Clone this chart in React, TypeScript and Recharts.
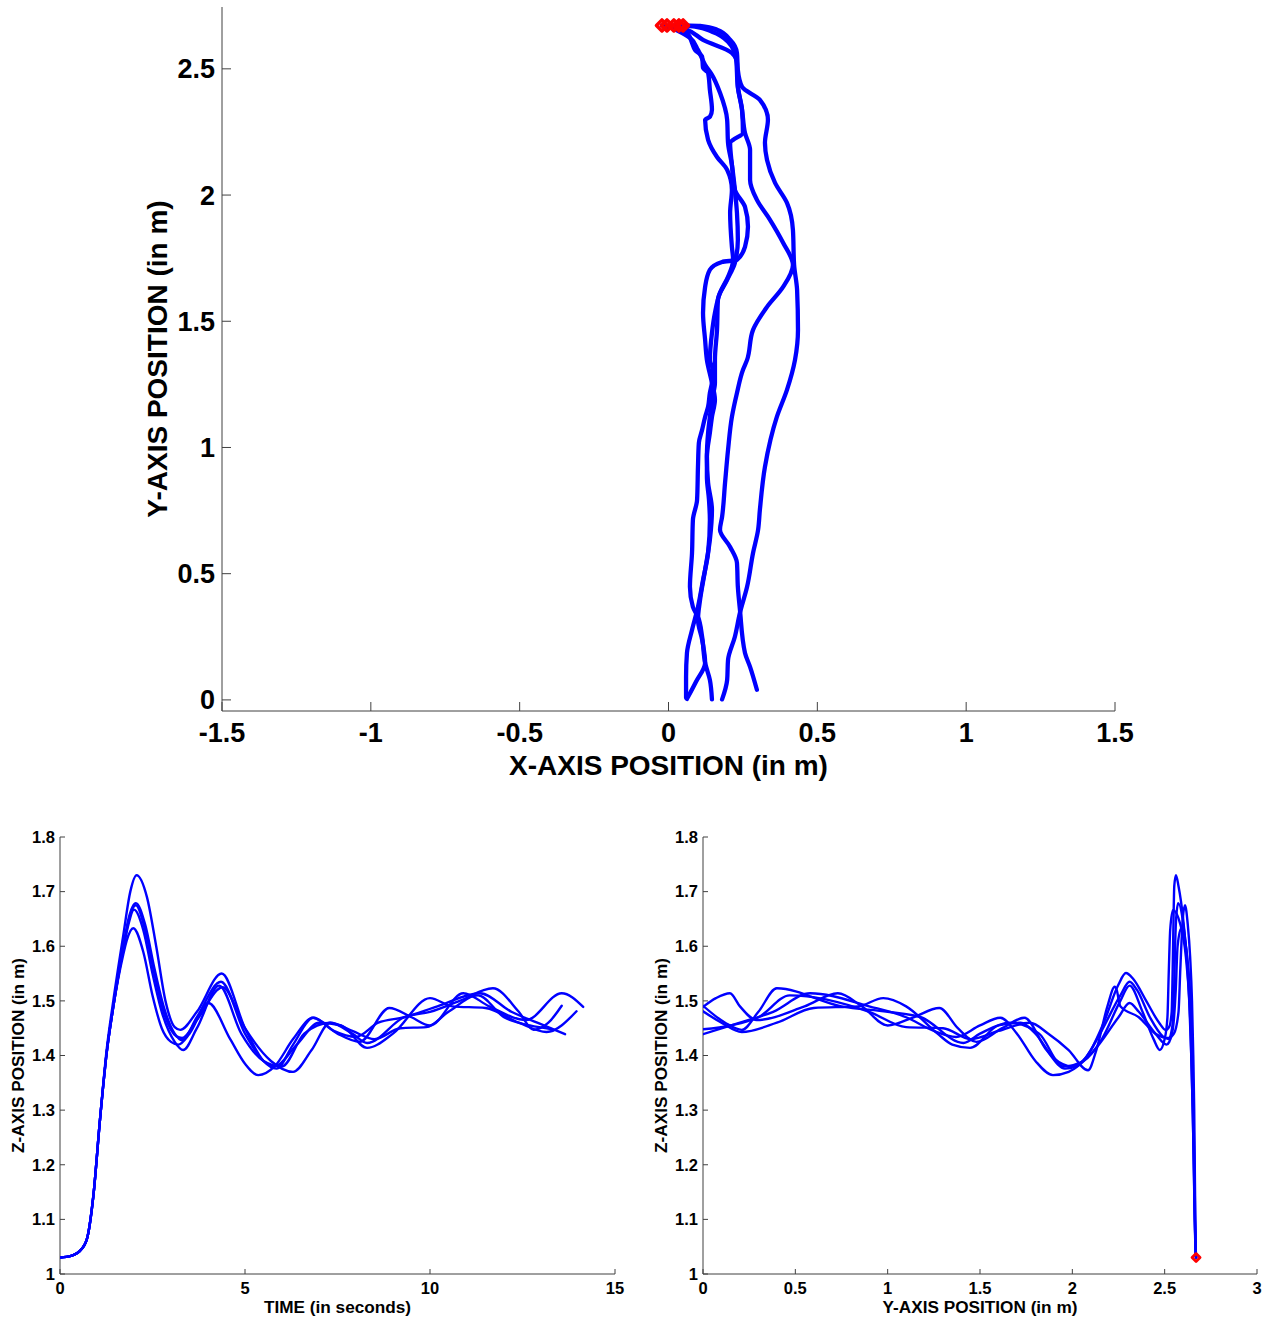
import React from 'react';
import { ScatterChart, Scatter, XAxis, YAxis, Label } from 'recharts';

type Pt = [number, number];
type XY = { x: number; y: number };

// ---- Plan view: ground position (x, y) in metres, from start to finish ----
const walkA: Pt[] = [
  [0.049, 2.672], [0.106, 2.670], [0.163, 2.655], [0.207, 2.615], [0.230, 2.563], [0.233, 2.496],
  [0.247, 2.429], [0.307, 2.377], [0.334, 2.298], [0.324, 2.207], [0.331, 2.139], [0.358, 2.048],
  [0.398, 1.969], [0.418, 1.862], [0.422, 1.723], [0.432, 1.624], [0.435, 1.466], [0.425, 1.347],
  [0.398, 1.228], [0.364, 1.121], [0.324, 0.923], [0.307, 0.753], [0.301, 0.674], [0.284, 0.582],
  [0.264, 0.448], [0.240, 0.345], [0.223, 0.250], [0.200, 0.158], [0.197, 0.079], [0.180, 0.002],
];
const walkB: Pt[] = [
  [0.035, 2.672], [0.089, 2.667], [0.146, 2.647], [0.200, 2.607], [0.227, 2.540], [0.233, 2.429],
  [0.247, 2.338], [0.257, 2.246], [0.274, 2.179], [0.274, 2.060], [0.297, 1.981], [0.341, 1.902],
  [0.385, 1.811], [0.418, 1.723], [0.385, 1.636], [0.331, 1.557], [0.284, 1.466], [0.264, 1.347],
  [0.250, 1.307], [0.230, 1.216], [0.213, 1.121], [0.200, 0.990], [0.190, 0.860], [0.180, 0.725],
  [0.173, 0.674], [0.207, 0.606], [0.230, 0.543], [0.233, 0.448], [0.240, 0.357], [0.257, 0.186],
  [0.274, 0.131], [0.297, 0.040],
];
const walkC: Pt[] = [
  [0.018, 2.672], [0.062, 2.655], [0.116, 2.615], [0.213, 2.563], [0.230, 2.524], [0.233, 2.429],
  [0.247, 2.338], [0.250, 2.246], [0.217, 2.219], [0.207, 2.207], [0.213, 2.120], [0.223, 2.021],
  [0.257, 1.953], [0.267, 1.874], [0.257, 1.795], [0.230, 1.743], [0.180, 1.735], [0.139, 1.704],
  [0.123, 1.636], [0.116, 1.533], [0.123, 1.426], [0.129, 1.347], [0.146, 1.256], [0.156, 1.189],
  [0.146, 1.121], [0.139, 1.058], [0.129, 0.963], [0.129, 0.884], [0.136, 0.792], [0.139, 0.713],
  [0.133, 0.582], [0.116, 0.475], [0.099, 0.368], [0.079, 0.277], [0.062, 0.186], [0.059, 0.091],
  [0.059, 0.008],
];
const walkD: Pt[] = [
  [-0.022, 2.672], [0.062, 2.643], [0.079, 2.603], [0.089, 2.575], [0.113, 2.548], [0.116, 2.504],
  [0.133, 2.484], [0.139, 2.417], [0.146, 2.338], [0.139, 2.310], [0.123, 2.298], [0.133, 2.219],
  [0.163, 2.151], [0.197, 2.100], [0.213, 2.021], [0.207, 1.929], [0.213, 1.795], [0.217, 1.743],
  [0.200, 1.676], [0.173, 1.613], [0.156, 1.533], [0.146, 1.454], [0.139, 1.347], [0.149, 1.307],
  [0.146, 1.256], [0.139, 1.216], [0.133, 1.161], [0.123, 1.121], [0.113, 1.070], [0.102, 1.018],
  [0.099, 0.923], [0.096, 0.792], [0.082, 0.713], [0.079, 0.582], [0.072, 0.448], [0.082, 0.368],
  [0.099, 0.329], [0.113, 0.250], [0.123, 0.147], [0.139, 0.079], [0.146, 0.002],
];
const walkE: Pt[] = [
  [-0.005, 2.672], [0.072, 2.623], [0.099, 2.575], [0.123, 2.516], [0.146, 2.476], [0.173, 2.405],
  [0.197, 2.298], [0.200, 2.207], [0.213, 2.120], [0.223, 2.021], [0.230, 1.929], [0.233, 1.823],
  [0.223, 1.731], [0.197, 1.664], [0.166, 1.585], [0.163, 1.466], [0.156, 1.347], [0.156, 1.256],
  [0.146, 1.189], [0.139, 1.121], [0.133, 1.058], [0.129, 0.963], [0.133, 0.860], [0.146, 0.753],
  [0.139, 0.634], [0.123, 0.515], [0.106, 0.396], [0.099, 0.317], [0.113, 0.238], [0.123, 0.147],
  [0.092, 0.071], [0.062, 0.004],
];

// ---- Height z (m) against time t (s) ----
const heightTime1: Pt[] = [
  [0, 1.03], [0.3, 1.033], [0.6, 1.047], [0.75, 1.07], [0.9, 1.142], [1.08, 1.282], [1.26, 1.41],
  [1.44, 1.5], [1.71, 1.62], [1.9, 1.7], [2.07, 1.73], [2.35, 1.69], [2.6, 1.6], [2.85, 1.5],
  [3.1, 1.452], [3.25, 1.447], [3.7, 1.48], [4.37, 1.55], [5.0, 1.45], [5.5, 1.39], [5.85, 1.376],
  [6.3, 1.42], [6.84, 1.469], [7.5, 1.44], [8.1, 1.425], [8.9, 1.487], [9.5, 1.47], [10.0, 1.455],
  [10.9, 1.514], [11.6, 1.49], [12.6, 1.465], [13.56, 1.514], [14.14, 1.489],
];
const heightTime2: Pt[] = [
  [0, 1.03], [0.3, 1.033], [0.6, 1.047], [0.75, 1.07], [0.9, 1.142], [1.08, 1.282], [1.26, 1.404],
  [1.44, 1.489], [1.71, 1.6], [1.85, 1.65], [2.05, 1.679], [2.3, 1.64], [2.55, 1.56], [2.8, 1.49],
  [3.1, 1.44], [3.3, 1.428], [3.7, 1.47], [4.35, 1.535], [5.0, 1.44], [5.5, 1.39], [5.8, 1.38],
  [6.4, 1.42], [7.0, 1.46], [7.6, 1.455], [8.3, 1.414], [9.0, 1.44], [10.0, 1.505], [10.6, 1.49],
  [11.5, 1.487], [12.4, 1.46], [13.15, 1.443], [13.96, 1.481],
];
const heightTime3: Pt[] = [
  [0, 1.03], [0.3, 1.033], [0.6, 1.047], [0.75, 1.07], [0.9, 1.142], [1.08, 1.282], [1.26, 1.404],
  [1.44, 1.489], [1.71, 1.595], [1.85, 1.64], [2.0, 1.667], [2.25, 1.63], [2.5, 1.55], [2.75, 1.48],
  [3.1, 1.425], [3.33, 1.41], [3.7, 1.45], [4.3, 1.528], [4.9, 1.44], [5.5, 1.39], [6.0, 1.38],
  [6.6, 1.44], [7.3, 1.46], [7.9, 1.44], [8.3, 1.423], [9.3, 1.47], [10.0, 1.48], [10.8, 1.5],
  [11.7, 1.523], [12.4, 1.48], [12.8, 1.447], [13.2, 1.46], [13.56, 1.491],
];
const heightTime4: Pt[] = [
  [0, 1.03], [0.3, 1.033], [0.6, 1.047], [0.75, 1.07], [0.9, 1.142], [1.08, 1.282], [1.26, 1.404],
  [1.44, 1.489], [1.71, 1.585], [1.8, 1.61], [1.98, 1.633], [2.25, 1.59], [2.5, 1.51], [2.75, 1.45],
  [3.0, 1.425], [3.2, 1.42], [3.5, 1.44], [4.01, 1.496], [4.6, 1.43], [5.0, 1.385], [5.36, 1.364],
  [5.8, 1.38], [6.3, 1.43], [6.84, 1.469], [7.4, 1.445], [8.0, 1.434], [8.6, 1.46], [9.3, 1.47],
  [10.2, 1.49], [11.35, 1.514], [12.2, 1.48], [12.9, 1.46], [13.65, 1.439],
];
const heightTime5: Pt[] = [
  [0, 1.03], [0.3, 1.033], [0.6, 1.047], [0.75, 1.07], [0.9, 1.142], [1.08, 1.282], [1.26, 1.404],
  [1.44, 1.489], [1.71, 1.595], [1.85, 1.645], [2.05, 1.675], [2.3, 1.63], [2.55, 1.55], [2.8, 1.48],
  [3.15, 1.435], [3.3, 1.432], [3.7, 1.465], [4.4, 1.525], [5.0, 1.45], [5.7, 1.39], [6.3, 1.37],
  [6.8, 1.41], [7.3, 1.46], [7.9, 1.445], [8.5, 1.43], [9.2, 1.45], [9.9, 1.452], [10.5, 1.48],
  [11.3, 1.51], [12.0, 1.47], [12.7, 1.455], [13.3, 1.448],
];

// ---- Height z (m) against forward position y (m) ----
const heightY1: Pt[] = [
  [2.670, 1.03], [2.668, 1.04], [2.664, 1.08], [2.660, 1.15], [2.655, 1.25], [2.648, 1.35],
  [2.640, 1.45], [2.625, 1.55], [2.600, 1.65], [2.575, 1.71], [2.561, 1.73], [2.552, 1.71],
  [2.548, 1.65], [2.543, 1.55], [2.538, 1.48], [2.525, 1.453], [2.505, 1.447], [2.47, 1.46],
  [2.40, 1.50], [2.33, 1.54], [2.29, 1.551], [2.25, 1.53], [2.17, 1.46], [2.10, 1.41], [2.02, 1.38],
  [1.96, 1.376], [1.86, 1.41], [1.74, 1.469], [1.62, 1.45], [1.48, 1.425], [1.38, 1.45],
  [1.28, 1.487], [1.14, 1.47], [1.0, 1.455], [0.86, 1.49], [0.73, 1.514], [0.55, 1.49],
  [0.29, 1.465], [0.2, 1.49], [0.146, 1.514], [0.07, 1.505], [0.0, 1.489],
];
const heightY2: Pt[] = [
  [2.670, 1.03], [2.668, 1.04], [2.665, 1.08], [2.661, 1.15], [2.657, 1.25], [2.651, 1.35],
  [2.643, 1.45], [2.628, 1.55], [2.605, 1.63], [2.573, 1.679], [2.562, 1.65], [2.555, 1.58],
  [2.550, 1.5], [2.540, 1.45], [2.520, 1.43], [2.49, 1.435], [2.42, 1.47], [2.35, 1.52],
  [2.31, 1.535], [2.26, 1.51], [2.15, 1.44], [2.07, 1.395], [2.0, 1.38], [1.9, 1.395], [1.8, 1.44],
  [1.72, 1.46], [1.6, 1.455], [1.446, 1.414], [1.35, 1.42], [1.27, 1.44], [1.1, 1.49],
  [0.976, 1.505], [0.84, 1.49], [0.6, 1.487], [0.4, 1.46], [0.21, 1.443], [0.1, 1.46], [0.0, 1.481],
];
const heightY3: Pt[] = [
  [2.670, 1.03], [2.667, 1.05], [2.663, 1.1], [2.658, 1.2], [2.652, 1.3], [2.644, 1.4],
  [2.633, 1.5], [2.615, 1.58], [2.585, 1.64], [2.545, 1.666], [2.530, 1.63], [2.522, 1.55],
  [2.515, 1.47], [2.500, 1.43], [2.474, 1.41], [2.44, 1.43], [2.38, 1.48], [2.31, 1.528],
  [2.26, 1.5], [2.16, 1.43], [2.06, 1.39], [1.95, 1.38], [1.82, 1.44], [1.66, 1.46], [1.5, 1.44],
  [1.41, 1.423], [1.18, 1.47], [1.0, 1.48], [0.75, 1.49], [0.40, 1.523], [0.30, 1.48],
  [0.21, 1.447], [0.12, 1.46], [0.0, 1.491],
];
const heightY4: Pt[] = [
  [2.670, 1.03], [2.668, 1.05], [2.665, 1.1], [2.661, 1.2], [2.656, 1.3], [2.650, 1.4],
  [2.640, 1.5], [2.625, 1.57], [2.590, 1.633], [2.570, 1.6], [2.560, 1.52], [2.545, 1.45],
  [2.525, 1.425], [2.510, 1.42], [2.45, 1.44], [2.36, 1.48], [2.31, 1.496], [2.25, 1.47],
  [2.12, 1.41], [1.98, 1.37], [1.895, 1.364], [1.8, 1.39], [1.7, 1.44], [1.61, 1.469],
  [1.5, 1.455], [1.37, 1.434], [1.25, 1.445], [1.1, 1.47], [0.9, 1.49], [0.58, 1.514],
  [0.38, 1.48], [0.2, 1.46], [0.0, 1.439],
];
const heightY5: Pt[] = [
  [2.670, 1.03], [2.668, 1.05], [2.666, 1.1], [2.663, 1.2], [2.660, 1.3], [2.655, 1.4],
  [2.648, 1.5], [2.638, 1.58], [2.625, 1.64], [2.610, 1.675], [2.598, 1.65], [2.585, 1.56],
  [2.575, 1.48], [2.550, 1.44], [2.520, 1.432], [2.45, 1.44], [2.36, 1.47], [2.26, 1.49],
  [2.24, 1.52], [2.23, 1.526], [2.19, 1.49], [2.13, 1.41], [2.085, 1.373], [1.98, 1.41],
  [1.87, 1.44], [1.77, 1.46], [1.6, 1.445], [1.45, 1.43], [1.3, 1.45], [1.1, 1.452], [0.9, 1.48],
  [0.47, 1.51], [0.3, 1.47], [0.15, 1.455], [0.0, 1.448],
];

// ---- Axis ticks ----
const planTicksX = [-1.5, -1, -0.5, 0, 0.5, 1, 1.5];
const planTicksY = [0, 0.5, 1, 1.5, 2, 2.5];
const timeTicks = [0, 5, 10, 15];
const forwardTicks = [0, 0.5, 1, 1.5, 2, 2.5, 3];
const heightTicks = [1, 1.1, 1.2, 1.3, 1.4, 1.5, 1.6, 1.7, 1.8];

const FONT = "'Liberation Sans', Arial, Helvetica, sans-serif";
const BLUE = '#0000ff';
const RED = '#ff0000';
const AXIS = '#404040';

const toXY = (pts: Pt[]): XY[] => pts.map(([x, y]) => ({ x, y }));

const walks = [walkA, walkB, walkC, walkD, walkE].map(toXY);
const walkStarts = walks.map((w) => w[0]);
const heightTimeSeries = [heightTime1, heightTime2, heightTime3, heightTime4, heightTime5].map(toXY);
const heightYSeries = [heightY1, heightY2, heightY3, heightY4, heightY5].map(toXY);
const heightYStart = [heightYSeries[0][0]];

const hiddenPoint = () => <g />;

const diamond = (half: number, width: number) => (props: any) => {
  const { cx, cy } = props;
  if (cx == null || cy == null) return <g />;
  return (
    <polygon
      points={`${cx},${cy - half} ${cx + half},${cy} ${cx},${cy + half} ${cx - half},${cy}`}
      fill="none"
      stroke={RED}
      strokeWidth={width}
      strokeLinejoin="round"
    />
  );
};

type PanelProps = {
  width: number;
  height: number;
  margin: { top: number; right: number; bottom: number; left: number };
  yAxisWidth: number;
  xAxisHeight: number;
  xDomain: [number, number];
  xTicks: number[];
  yDomain: [number, number];
  yTicks: number[];
  xTitle: string;
  yTitle: string;
  tickFont: number;
  titleFont: number;
  tickLen: number;
  xTickGap: number;
  yTickGap: number;
  xTitleOffset: number;
  yTitleOffset: number;
  series: XY[][];
  markers: XY[];
  lineWidth: number;
  markerHalf: number;
  markerStroke: number;
  curve: 'monotoneX' | 'monotoneY';
};

function Panel(p: PanelProps) {
  const fmt = (v: number) => String(v);
  const tickStyle = { fill: '#000', fontSize: p.tickFont, fontWeight: 700, fontFamily: FONT };
  const titleStyle: React.CSSProperties = {
    fill: '#000',
    fontSize: p.titleFont,
    fontWeight: 700,
    fontFamily: FONT,
  };
  const markerShape = diamond(p.markerHalf, p.markerStroke);
  return (
    <ScatterChart width={p.width} height={p.height} margin={p.margin}>
      <XAxis
        type="number"
        dataKey="x"
        domain={p.xDomain}
        ticks={p.xTicks}
        interval={0}
        allowDataOverflow
        height={p.xAxisHeight}
        tickSize={-p.tickLen}
        tickMargin={p.xTickGap}
        axisLine={{ stroke: AXIS, strokeWidth: 1 }}
        tickLine={{ stroke: AXIS, strokeWidth: 1 }}
        tick={tickStyle}
        tickFormatter={fmt}
      >
        <Label
          content={(lp: any) => {
            const vb = lp.viewBox || {};
            return (
              <text x={vb.x + vb.width / 2} y={vb.y + p.xTitleOffset} textAnchor="middle" style={titleStyle}>
                {p.xTitle}
              </text>
            );
          }}
        />
      </XAxis>
      <YAxis
        type="number"
        dataKey="y"
        domain={p.yDomain}
        ticks={p.yTicks}
        interval={0}
        allowDataOverflow
        width={p.yAxisWidth}
        tickSize={-p.tickLen}
        tickMargin={p.yTickGap}
        axisLine={{ stroke: AXIS, strokeWidth: 1 }}
        tickLine={{ stroke: AXIS, strokeWidth: 1 }}
        tick={tickStyle}
        tickFormatter={fmt}
      >
        <Label
          content={(lp: any) => {
            const vb = lp.viewBox || {};
            const x = vb.x + vb.width - p.yTitleOffset;
            const y = vb.y + vb.height / 2;
            return (
              <text x={x} y={y} transform={`rotate(-90 ${x} ${y})`} textAnchor="middle" style={titleStyle}>
                {p.yTitle}
              </text>
            );
          }}
        />
      </YAxis>
      {p.series.map((s, i) => (
        <Scatter
          key={`s${i}`}
          data={s}
          fill={BLUE}
          line={{ stroke: BLUE, strokeWidth: p.lineWidth, strokeLinejoin: 'round', strokeLinecap: 'round' }}
          lineType="joint"
          lineJointType={p.curve}
          shape={hiddenPoint}
          isAnimationActive={false}
        />
      ))}
      <Scatter data={p.markers} fill="none" shape={markerShape} isAnimationActive={false} />
    </ScatterChart>
  );
}

export default function App() {
  return (
    <div style={{ position: 'absolute', left: 0, top: 0, width: 1270, height: 1321, background: '#fff' }}>
      <div style={{ position: 'absolute', left: 0, top: 0 }}>
        <Panel
          width={1270}
          height={800}
          margin={{ top: 7, right: 155, bottom: 29, left: 142 }}
          yAxisWidth={80}
          xAxisHeight={60}
          xDomain={[-1.5, 1.5]}
          xTicks={planTicksX}
          yDomain={[-0.044, 2.745]}
          yTicks={planTicksY}
          xTitle="X-AXIS POSITION (in m)"
          yTitle="Y-AXIS POSITION (in m)"
          tickFont={27}
          titleFont={28}
          tickLen={9}
          xTickGap={21}
          yTickGap={16}
          xTitleOffset={64}
          yTitleOffset={55}
          series={walks}
          markers={walkStarts}
          lineWidth={4.3}
          markerHalf={5.5}
          markerStroke={3.5}
          curve="monotoneY"
        />
      </div>
      <div style={{ position: 'absolute', left: 0, top: 790 }}>
        <Panel
          width={640}
          height={531}
          margin={{ top: 47, right: 25, bottom: 7, left: 20 }}
          yAxisWidth={40}
          xAxisHeight={40}
          xDomain={[0, 15]}
          xTicks={timeTicks}
          yDomain={[1, 1.8]}
          yTicks={heightTicks}
          xTitle="TIME (in seconds)"
          yTitle="Z-AXIS POSITION (in m)"
          tickFont={16.5}
          titleFont={17.2}
          tickLen={5}
          xTickGap={13}
          yTickGap={10}
          xTitleOffset={39}
          yTitleOffset={36.5}
          series={heightTimeSeries}
          markers={[]}
          lineWidth={2.4}
          markerHalf={4}
          markerStroke={2}
          curve="monotoneX"
        />
      </div>
      <div style={{ position: 'absolute', left: 640, top: 790 }}>
        <Panel
          width={630}
          height={531}
          margin={{ top: 47, right: 13, bottom: 7, left: 23 }}
          yAxisWidth={40}
          xAxisHeight={40}
          xDomain={[0, 3]}
          xTicks={forwardTicks}
          yDomain={[1, 1.8]}
          yTicks={heightTicks}
          xTitle="Y-AXIS POSITION (in m)"
          yTitle="Z-AXIS POSITION (in m)"
          tickFont={16.5}
          titleFont={17.2}
          tickLen={5}
          xTickGap={13}
          yTickGap={10}
          xTitleOffset={39}
          yTitleOffset={36.5}
          series={heightYSeries}
          markers={heightYStart}
          lineWidth={2.4}
          markerHalf={4}
          markerStroke={2.8}
          curve="monotoneX"
        />
      </div>
    </div>
  );
}
